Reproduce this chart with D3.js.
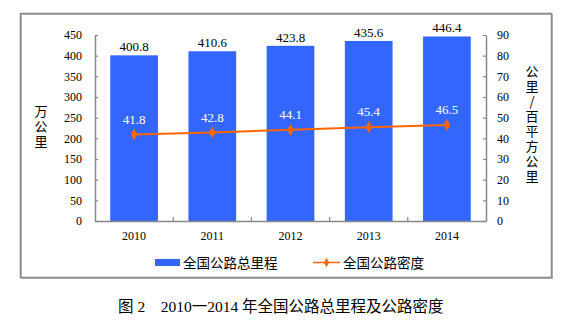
<!DOCTYPE html>
<html><head><meta charset="utf-8">
<script src="https://cdn.jsdelivr.net/npm/d3@7"></script>
<style>body{margin:0;background:#fff}svg{display:block}</style>
</head><body>
<svg id="c" width="568" height="327"></svg>
<script>
const years = ["2010","2011","2012","2013","2014"];
const mileage = [400.8, 410.6, 423.8, 435.6, 446.4];
const density = [41.8, 42.8, 44.1, 45.4, 46.5];
const leftTicks = [0,50,100,150,200,250,300,350,400,450];
const rightTicks = [0,10,20,30,40,50,60,70,80,90];
const seriesNames = ["全国公路总里程","全国公路密度"];
const leftTitle = "万公里";
const rightTitle = "公里/百平方公里";
const caption = "图 2　2010一2014 年全国公路总里程及公路密度";

const svg = d3.select("#c");
const serif = "'Liberation Serif','Times New Roman',serif";
const cjk = "'Noto Sans CJK SC',sans-serif";
const mixed = "'Liberation Serif','Noto Sans CJK SC',serif";
const blue = "#3366FF", orange = "#FF6600", axisCol = "#888";

// frame
svg.append("rect").attr("x",21.5).attr("y",14.5).attr("width",531).attr("height",264)
  .attr("fill","none").attr("stroke","#bbb").attr("stroke-width",1);
svg.append("rect").attr("x",20.5).attr("y",13.5).attr("width",531).attr("height",264)
  .attr("fill","none").attr("stroke",axisCol).attr("stroke-width",1.5);

const L = 95, R = 486, T = 35, B = 221;
const x = d3.scaleBand().domain(years).range([L,R]).paddingInner(0.39).paddingOuter(0.195);
const xb = d3.scaleBand().domain(years).range([L,R]);
const yL = d3.scaleLinear().domain([0,450]).range([B,T]);
const yR = d3.scaleLinear().domain([0,90]).range([B,T]);

// bars
svg.selectAll("rect.bar").data(mileage).join("rect").attr("class","bar")
  .attr("x",(d,i)=>x(years[i])).attr("width",x.bandwidth())
  .attr("y",d=>yL(d)).attr("height",d=>B-yL(d)).attr("fill",blue);

// axes
const axL = svg.append("g").attr("transform",`translate(${L},0)`)
  .call(d3.axisLeft(yL).tickValues(leftTicks).tickSize(-3).tickPadding(13).tickSizeOuter(0));
const axR = svg.append("g").attr("transform",`translate(${R},0)`)
  .call(d3.axisRight(yR).tickValues(rightTicks).tickSize(-3).tickPadding(11).tickSizeOuter(0));
const axB = svg.append("g").attr("transform",`translate(0,${B})`)
  .call(d3.axisBottom(xb).tickSize(0).tickPadding(10));
[axL,axR,axB].forEach(g=>{
  g.attr("font-family",null).attr("font-size",null);
  g.select(".domain").attr("stroke",axisCol).attr("stroke-width",1.5);
  g.selectAll(".tick line").attr("stroke",axisCol).attr("stroke-width",1.2);
  g.selectAll("text").style("font-family",serif).style("font-size","12px").attr("fill","#000");
});
// boundary ticks along x axis
svg.append("g").selectAll("line").data(years.slice(1)).join("line")
  .attr("x1",d=>xb(d)).attr("x2",d=>xb(d)).attr("y1",B).attr("y2",B-4)
  .attr("stroke",axisCol).attr("stroke-width",1.2);

// line
const cx = i => x(years[i]) + x.bandwidth()/2;
const line = d3.line().x((d,i)=>cx(i)).y(d=>yR(d));
svg.append("path").datum(density).attr("d",line).attr("fill","none")
  .attr("stroke",orange).attr("stroke-width",2);
svg.selectAll("path.mk").data(density).join("path").attr("class","mk")
  .attr("d",d3.symbol(d3.symbolDiamond,40))
  .attr("transform",(d,i)=>`translate(${cx(i)},${yR(d)})`).attr("fill",orange);

// labels
svg.selectAll("text.bl").data(mileage).join("text").attr("class","bl")
  .attr("x",(d,i)=>cx(i)).attr("y",d=>yL(d)-4).attr("text-anchor","middle")
  .style("font-family",serif).style("font-size","13px").attr("fill","#000").text(d=>d.toFixed(1));
svg.selectAll("text.ll").data(density).join("text").attr("class","ll")
  .attr("x",(d,i)=>cx(i)).attr("y",d=>yR(d)-11).attr("text-anchor","middle")
  .style("font-family",serif).style("font-size","13px").attr("fill","#fff").text(d=>d.toFixed(1));

// axis titles (vertical)
const vt = (str, xx, y0) => {
  svg.append("text").attr("x",xx).attr("y",y0)
    .style("writing-mode","vertical-rl").style("text-orientation","upright")
    .style("letter-spacing","2px")
    .style("font-family",cjk).style("font-size","13px").attr("fill","#000")
    .text(str);
};
vt(leftTitle, 41, 105);
vt(rightTitle, 532, 65);

// legend
svg.append("rect").attr("x",155).attr("y",259).attr("width",25).attr("height",7).attr("fill",blue);
svg.append("text").attr("x",183).attr("y",267.5).style("font-family",cjk).style("font-size","13.5px")
  .attr("fill","#000").text(seriesNames[0]);
svg.append("line").attr("x1",313).attr("x2",340).attr("y1",262.5).attr("y2",262.5)
  .attr("stroke",orange).attr("stroke-width",1.5);
svg.append("path").attr("d",d3.symbol(d3.symbolDiamond,25))
  .attr("transform","translate(326.5,262.5)").attr("fill",orange);
svg.append("text").attr("x",343).attr("y",267.5).style("font-family",cjk).style("font-size","13.5px")
  .attr("fill","#000").text(seriesNames[1]);

// caption
svg.append("text").attr("x",118).attr("y",312).style("font-family",mixed).style("font-size","15.5px")
  .attr("fill","#000").text(caption);
</script>
</body></html>
